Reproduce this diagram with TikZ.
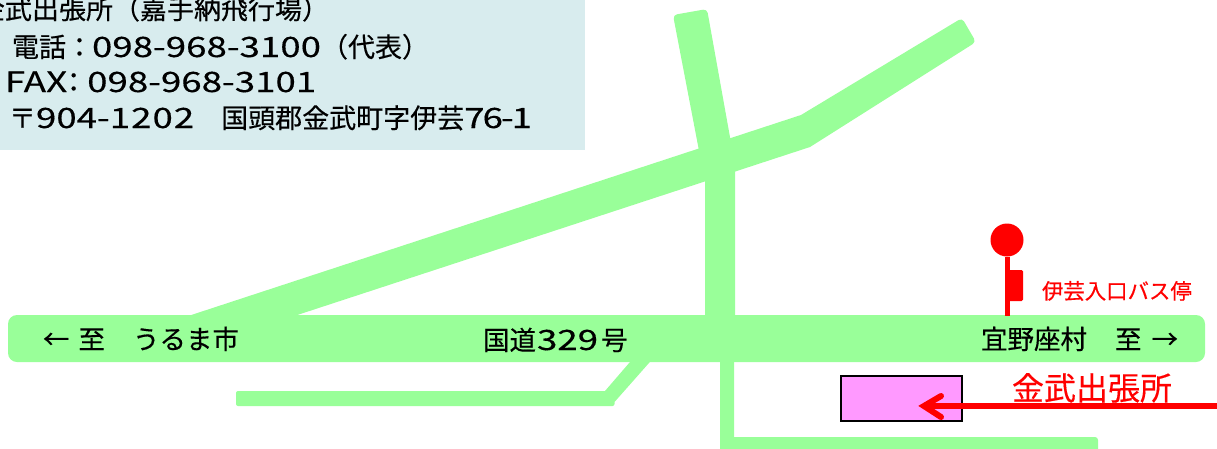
\documentclass[tikz,border=0pt]{standalone}
\usepackage{fontspec}
\setmainfont[FakeBold=0.35]{Noto Sans CJK JP}
\newfontfamily\digf[FakeStretch=1.31,FakeBold=0.35]{Noto Sans CJK JP}
\newcommand{\Dg}[1]{{\digf\fontsize{28}{28}\selectfont #1}}
\definecolor{roadc}{HTML}{99FF99}
\definecolor{infoc}{HTML}{D8ECEE}
\definecolor{pinkc}{HTML}{FF99FF}
\definecolor{redc}{HTML}{FF0000}
\tikzset{
 road/.style={fill=roadc,draw=none},
 lbl/.style={anchor=base west,inner sep=0pt,outer sep=0pt,text=black,font=\fontsize{27}{27}\selectfont},
 rlbl/.style={lbl,text=redc},
}
\begin{document}
\begin{tikzpicture}[x=1pt,y=-1pt]
\useasboundingbox (0,0) rectangle (1217,448);
\clip (0,0) rectangle (1217,448);
\fill[white] (0,0) rectangle (1217,448);
\fill[infoc] (0,0) rectangle (585,150);
% roads
\fill[road] (176,320) -- (801,115) [rounded corners=4pt] -- (962,18) -- (976,42) [sharp corners] -- (810,147) -- (282,320) -- cycle;
\fill[road] (705,182) [rounded corners=4pt] -- (673,15) -- (707,9) [sharp corners] -- (735,165) -- (735,320) -- (705,320) -- cycle;
\fill[road] (720,355) -- (734,355) -- (734,437) [rounded corners=3pt] -- (1098,437) [sharp corners] -- (1098,460) -- (720,460) -- cycle;
\fill[road] (636,355) -- (656,355) -- (614.5,402) [rounded corners=2pt] -- (614.5,406) -- (236,406) -- (236,391) [sharp corners] -- (605,391) -- cycle;
\fill[road,rounded corners=9pt] (8,315) rectangle (1205,362);
% bus stop
\node[circle,fill=redc,inner sep=0pt,minimum size=33pt] (busdot) at (1007,240) {};
\coordinate (poleend) at (1007.5,316);
\draw[redc,line width=5pt] (busdot.south -| poleend) -- (poleend);
\fill[redc,rounded corners=1.5pt] (1008,270) -- (1023,270) -- (1023,301) -- (1008,301) -- cycle;
\node[rlbl,font=\fontsize{21.4}{21.4}\selectfont] (stoplabel) at (1042,299) {伊芸入口バス停};
% office
\node[draw=black,line width=1.8pt,fill=pinkc,minimum width=121.4pt,minimum height=45.4pt,inner sep=0pt,outer sep=0pt,anchor=north west] (office) at (840.9,375.9) {};
\node[rlbl,font=\fontsize{32}{32}\selectfont] (officelabel) at (1012,400) {金武出張所};
\coordinate (arrowstart) at (1217,406);
\coordinate (arrowtip) at (924,406);
\draw[redc,line width=6pt] (arrowstart) -- (arrowtip);
\draw[redc,line width=6pt,line cap=round,line join=miter] (941,396) -- (arrowtip) -- (941,417);
% info text
\node[lbl] (t1) at (-22,19) {金武出張所（嘉手納飛行場）};
\node[lbl] (t2) at (12,57) {電話：\hspace{-1pt}\Dg{098-968-3100}（代表）};
\node[lbl] (t3) at (5,92) {\Dg{FAX}\hspace{-7pt}：\Dg{098-968-3101}};
\node[lbl] (t4) at (9,128) {〒\Dg{904-1\hspace{1pt}2\hspace{1pt}0\hspace{1pt}2}\hspace{27pt}国頭郡金武町字伊芸\Dg{7\hspace{-2pt}6\hspace{-2pt}-\hspace{-2pt}1}};
% road text
\node[lbl,font=\fontsize{26.5}{26.5}\selectfont] (left) at (43,349) {←\hspace{9pt}至\hspace{28pt}うるま市};
\node[lbl,font=\fontsize{26.5}{26.5}\selectfont] (route) at (483,350) {国道\hspace{1pt}\Dg{329}\hspace{3pt}号};
\node[lbl,font=\fontsize{26.5}{26.5}\selectfont] (right) at (981,349) {宜野座村\hspace{28pt}至\hspace{10pt}→};
\end{tikzpicture}
\end{document}
